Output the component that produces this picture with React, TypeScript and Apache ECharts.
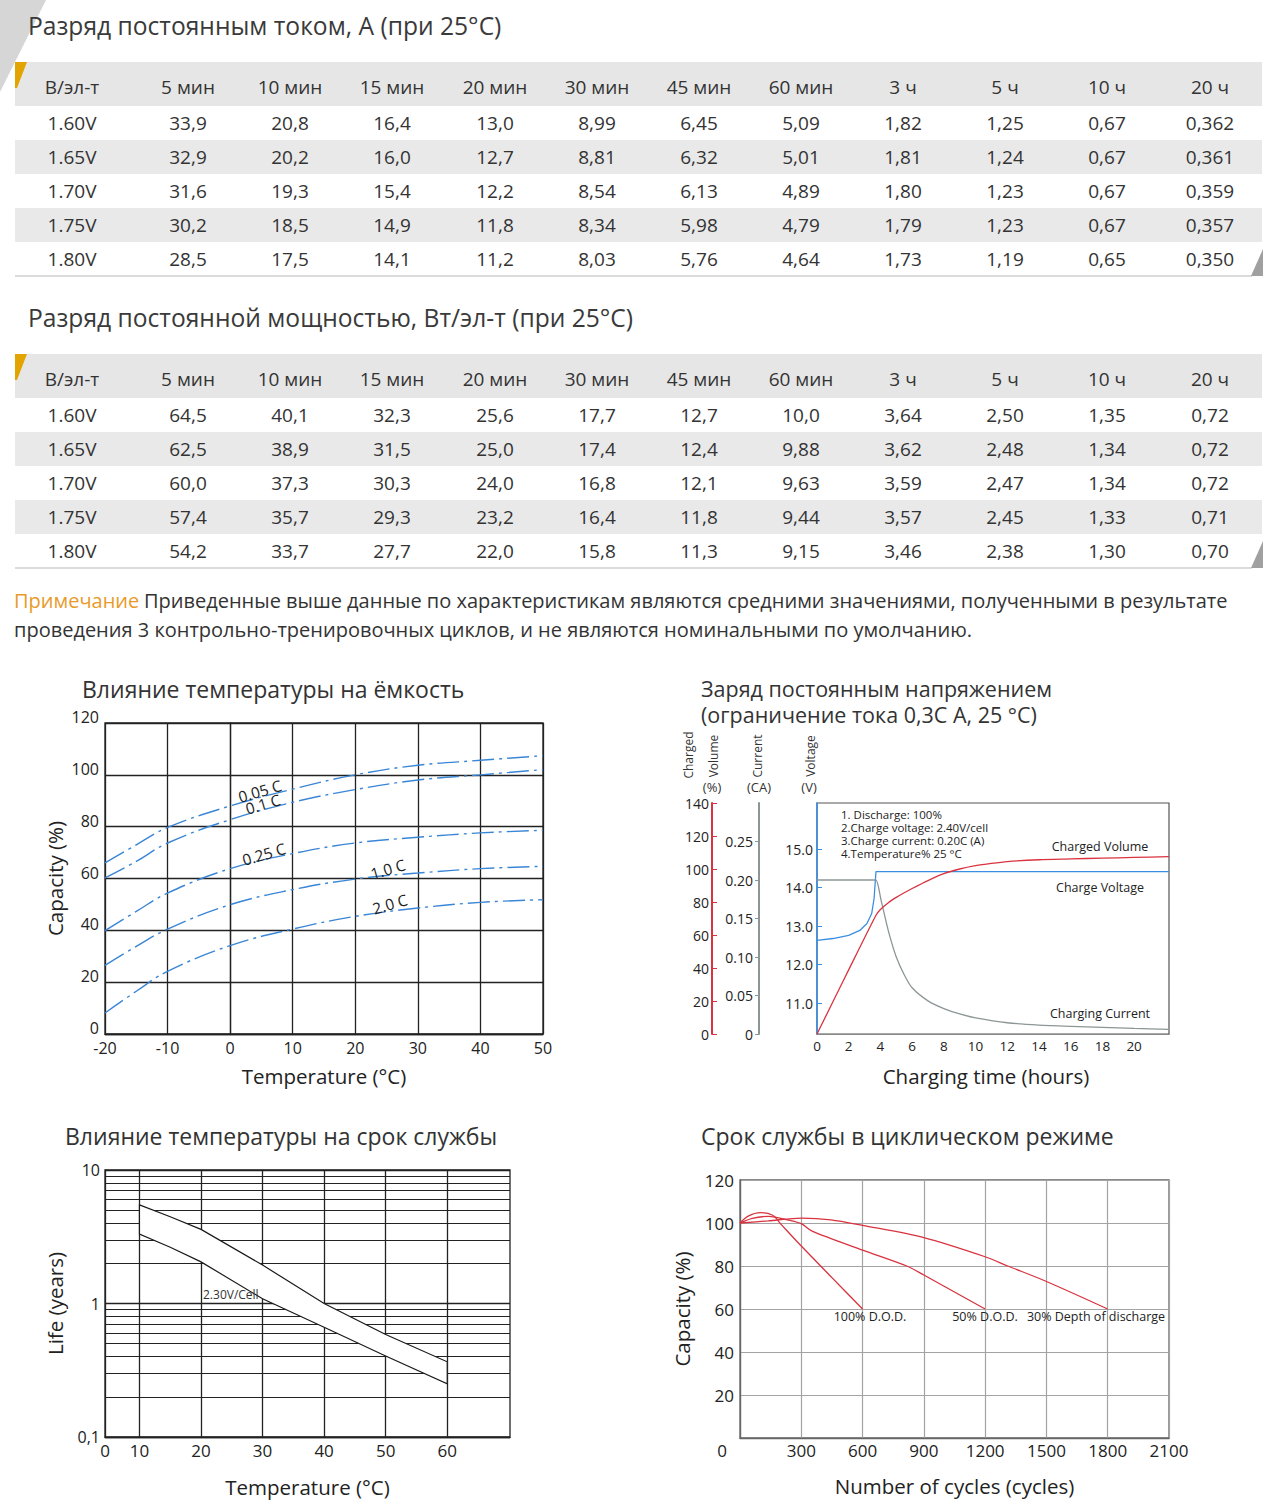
import React, { useEffect, useRef } from 'react';
import * as echarts from 'echarts';

const F = '"Open Sans", Arial, sans-serif';

// ---------- table data ----------
const tableCols = ['В/эл-т', '5 мин', '10 мин', '15 мин', '20 мин', '30 мин', '45 мин', '60 мин', '3 ч', '5 ч', '10 ч', '20 ч'];
const rowVolts = ['1.60V', '1.65V', '1.70V', '1.75V', '1.80V'];
const currentRows = [
  ['33,9', '20,8', '16,4', '13,0', '8,99', '6,45', '5,09', '1,82', '1,25', '0,67', '0,362'],
  ['32,9', '20,2', '16,0', '12,7', '8,81', '6,32', '5,01', '1,81', '1,24', '0,67', '0,361'],
  ['31,6', '19,3', '15,4', '12,2', '8,54', '6,13', '4,89', '1,80', '1,23', '0,67', '0,359'],
  ['30,2', '18,5', '14,9', '11,8', '8,34', '5,98', '4,79', '1,79', '1,23', '0,67', '0,357'],
  ['28,5', '17,5', '14,1', '11,2', '8,03', '5,76', '4,64', '1,73', '1,19', '0,65', '0,350'],
];
const powerRows = [
  ['64,5', '40,1', '32,3', '25,6', '17,7', '12,7', '10,0', '3,64', '2,50', '1,35', '0,72'],
  ['62,5', '38,9', '31,5', '25,0', '17,4', '12,4', '9,88', '3,62', '2,48', '1,34', '0,72'],
  ['60,0', '37,3', '30,3', '24,0', '16,8', '12,1', '9,63', '3,59', '2,47', '1,34', '0,72'],
  ['57,4', '35,7', '29,3', '23,2', '16,4', '11,8', '9,44', '3,57', '2,45', '1,33', '0,71'],
  ['54,2', '33,7', '27,7', '22,0', '15,8', '11,3', '9,15', '3,46', '2,38', '1,30', '0,70'],
];

// ---------- chart 1: temperature vs capacity ----------
const capTemps = [-20, -15, -10, 0, 10, 20, 30, 40, 50];
const cap005 = [66, 73, 79.7, 88, 94.5, 100, 103.7, 105.6, 107.4];
const cap01 = [60.2, 66.6, 73.7, 82.7, 89.4, 94.3, 98, 100, 102];
const cap025 = [39.9, 47.3, 54.4, 63.8, 69.6, 73.7, 75.9, 77.6, 78.6];
const cap10 = [26.5, 33.8, 40.5, 49.9, 55.7, 59.8, 62.1, 63.8, 64.7];
const cap20 = [8.1, 16.5, 24.2, 34.1, 40.5, 45.4, 48.6, 50.8, 51.8];

// ---------- chart 2: constant voltage charge ----------
const voltT = [0, 1, 2, 2.7, 3.15, 3.45, 3.6, 3.72, 22.2];
const voltV = [12.63, 12.68, 12.76, 12.89, 13.07, 13.33, 13.72, 14.42, 14.42];
const currT = [0, 3.5, 3.72, 4.05, 4.5, 5, 5.5, 6, 7, 8, 9, 10, 12, 14, 16, 18, 20, 22.2];
const currA = [0.2, 0.2, 0.2, 0.173, 0.134, 0.1, 0.077, 0.06, 0.043, 0.033, 0.026, 0.021, 0.0146, 0.0116, 0.0099, 0.0086, 0.0073, 0.006];
const volT = [0, 1.86, 3.72, 4, 4.5, 5, 5.5, 6, 7, 8, 9, 10, 11, 12, 14, 16, 18, 20, 22.2];
const volP = [0, 36.2, 72, 75.5, 79.6, 82.8, 85.6, 88.2, 93, 97.2, 100, 102, 103.4, 104.5, 105.6, 106.1, 106.6, 107, 107.5];

// ---------- chart 3: life vs temperature ----------
const lifeT = [10, 15, 20, 30, 40, 50, 60];
const lifeUpper = [5.48, 4.47, 3.59, 1.94, 1.0, 0.586, 0.366];
const lifeLower = [3.31, 2.64, 2.05, 1.085, 0.663, 0.404, 0.25];

// ---------- chart 4: cycle life ----------
const dod100C = [0, 40, 100, 160, 200, 300, 450, 600];
const dod100V = [100, 103.2, 104.8, 103.6, 99.5, 89.3, 74.6, 60];
const dod50C = [0, 60, 138, 246, 300, 353, 600, 816, 900, 1200];
const dod50V = [100, 102.2, 103.1, 101.2, 99.7, 96.2, 87.4, 80, 75.8, 60];
const dod30C = [0, 138, 300, 445, 600, 900, 1200, 1311, 1500, 1800];
const dod30V = [100, 101, 102.3, 101.5, 98.9, 93.2, 84.3, 80, 72.8, 60];

const zip = (a: number[], b: number[]) => a.map((v, i) => [v, b[i]]);

function txt(text: string, x: number, y: number, size: number, o: any = {}) {
  const align = o.align || 'left';
  const style: any = {
    text, fill: o.color || '#333', fontSize: size, fontFamily: F,
    align, textAlign: align, verticalAlign: 'middle', textVerticalAlign: 'middle',
  };
  if (o.lineHeight) style.lineHeight = o.lineHeight;
  return { type: 'text', x, y, z: 50, rotation: o.rotation || 0, silent: true, style };
}

function buildGraphics() {
  const G: any[] = [];
  G.push({ type: 'polygon', shape: { points: [[0, 0], [46, 0], [0, 92]] }, style: { fill: '#d6d6d6' } });
  const colX = [72, 188, 290, 392, 495, 597, 699, 801, 903, 1005, 1107, 1210];
  const table = (y0: number, title: string, rows: string[][]) => {
    G.push(txt(title, 28, y0 - 37, 24.6, { color: '#3a3a3a' }));
    G.push({ type: 'rect', shape: { x: 15, y: y0, width: 1247, height: 44 }, style: { fill: '#e6e6e6' } });
    for (let i = 0; i < rows.length; i++) {
      if (i % 2 === 1) G.push({ type: 'rect', shape: { x: 15, y: y0 + 44 + i * 34, width: 1247, height: 34 }, style: { fill: '#e9e9e9' } });
    }
    G.push({ type: 'line', shape: { x1: 15, y1: y0 + 214, x2: 1252, y2: y0 + 214 }, style: { stroke: '#cfcfcf', lineWidth: 1.5 } });
    G.push({ type: 'polygon', shape: { points: [[15, y0], [27, y0], [17, y0 + 26], [15, y0 + 26]] }, style: { fill: '#e2a400' } });
    G.push({ type: 'polygon', shape: { points: [[1263, y0 + 187], [1263, y0 + 214], [1251, y0 + 214]] }, style: { fill: '#a0a0a0' } });
    tableCols.forEach((c, j) => G.push(txt(c, colX[j], y0 + 25, 19, { align: 'center' })));
    rows.forEach((row, i) => {
      const y = y0 + 61 + i * 34;
      G.push(txt(rowVolts[i], colX[0], y, 19, { align: 'center' }));
      row.forEach((v, j) => G.push(txt(v, colX[j + 1], y, 19, { align: 'center' })));
    });
  };
  table(62, 'Разряд постоянным током, А (при 25°C)', currentRows);
  table(354, 'Разряд постоянной мощностью, Вт/эл-т (при 25°C)', powerRows);

  G.push(txt('Примечание', 14, 600, 20, { color: '#e89b2a' }));
  G.push(txt('Приведенные выше данные по характеристикам являются средними значениями, полученными в результате', 144, 600, 20));
  G.push(txt('проведения 3 контрольно-тренировочных циклов, и не являются номинальными по умолчанию.', 14, 629, 20));

  // chart titles
  G.push(txt('Влияние температуры на ёмкость', 82, 689, 23));
  G.push(txt('Заряд постоянным напряжением', 701, 688, 21.5));
  G.push(txt('(ограничение тока 0,3C A, 25 °C)', 701, 714, 21.5));
  G.push(txt('Влияние температуры на срок службы', 65, 1136, 23));
  G.push(txt('Срок службы в циклическом режиме', 701, 1136, 23));

  // chart 1 curve labels
  const rot = (16 * Math.PI) / 180;
  const c1 = { align: 'center', rotation: rot, color: '#222' };
  G.push(txt('0.05 C', 260, 791, 15.5, c1));
  G.push(txt('0.1 C', 263, 804, 15.5, c1));
  G.push(txt('0.25 C', 264, 854, 15.5, c1));
  G.push(txt('1.0 C', 388, 869, 15.5, c1));
  G.push(txt('2.0 C', 390, 904, 15.5, c1));

  // chart 2 axis names
  const r90 = Math.PI / 2;
  G.push(txt('Charged', 688, 755, 12, { align: 'center', rotation: r90 }));
  G.push(txt('Volume', 713, 756, 12, { align: 'center', rotation: r90 }));
  G.push(txt('(%)', 712, 787, 13, { align: 'center' }));
  G.push(txt('Current', 757, 756, 12, { align: 'center', rotation: r90 }));
  G.push(txt('(CA)', 759, 787, 13, { align: 'center' }));
  G.push(txt('Voltage', 810, 756, 12, { align: 'center', rotation: r90 }));
  G.push(txt('(V)', 809, 787, 13, { align: 'center' }));
  G.push(txt('1. Discharge: 100%\n2.Charge voltage: 2.40V/cell\n3.Charge current: 0.20C (A)\n4.Temperature% 25 °C',
    841, 834, 11.5, { color: '#222', lineHeight: 13 }));
  G.push(txt('Charged Volume', 1100, 846, 12.5, { align: 'center', color: '#222' }));
  G.push(txt('Charge Voltage', 1100, 887, 12.5, { align: 'center', color: '#222' }));
  G.push(txt('Charging Current', 1100, 1013, 12.5, { align: 'center', color: '#222' }));

  // chart 3 label
  G.push(txt('2.30V/Cell', 203, 1294, 12, { color: '#333' }));

  // chart 4 labels
  G.push(txt('100% D.O.D.', 870, 1316, 12.5, { align: 'center', color: '#222' }));
  G.push(txt('50% D.O.D.', 985, 1316, 12.5, { align: 'center', color: '#222' }));
  G.push(txt('30% Depth of discharge', 1096, 1316, 12.5, { align: 'center', color: '#222' }));
  return G;
}

function buildOption() {
  const dark = '#222';
  const nameStyle = { color: dark, fontSize: 20.5, fontFamily: F };
  const lbl = (size: number, extra: any = {}) => ({ color: dark, fontSize: size, fontFamily: F, ...extra });
  const capLine = (arr: number[]) => ({
    type: 'line', xAxisIndex: 0, yAxisIndex: 0, data: zip(capTemps, arr), smooth: 0.4, symbol: 'none', silent: true,
    lineStyle: { color: '#3a86d6', width: 1.4, type: [22, 5, 3, 5] },
  });
  const redLine = (c: number[], v: number[]) => ({
    type: 'line', xAxisIndex: 3, yAxisIndex: 5, data: zip(c, v), smooth: 0.3, symbol: 'none', silent: true,
    lineStyle: { color: '#d8333f', width: 1.3 },
  });
  return {
    animation: false,
    backgroundColor: '#fff',
    textStyle: { fontFamily: F },
    graphic: { elements: buildGraphics() },
    grid: [
      { left: 105, top: 723, width: 438, height: 311, show: true, borderColor: dark, borderWidth: 1.3 },
      { left: 817, top: 803, width: 352, height: 231, show: true, borderColor: '#555', borderWidth: 1.2 },
      { left: 105, top: 1170, width: 405, height: 267, show: true, borderColor: dark, borderWidth: 1.3 },
      { left: 740, top: 1180, width: 429, height: 258, show: true, borderColor: '#666', borderWidth: 1.3 },
    ],
    xAxis: [
      {
        gridIndex: 0, type: 'value', min: -20, max: 50, interval: 10,
        axisLine: { show: true, lineStyle: { color: dark, width: 1.3 } }, axisTick: { show: false },
        splitLine: { show: true, lineStyle: { color: dark, width: 1.3 } },
        axisLabel: lbl(16, { margin: 6 }),
        name: 'Temperature (°C)', nameLocation: 'middle', nameGap: 31, nameTextStyle: nameStyle,
      },
      {
        gridIndex: 1, type: 'value', min: 0, max: 22.2, interval: 2,
        axisLine: { show: true, lineStyle: { color: '#888', width: 1.2 } }, axisTick: { show: false },
        splitLine: { show: false },
        axisLabel: lbl(13.5, { margin: 5, formatter: (v: number) => (v > 21 ? '' : String(v)) }),
        name: 'Charging time (hours)', nameLocation: 'middle', nameGap: 31,
        nameTextStyle: { ...nameStyle, padding: [0, 14, 0, 0] },
      },
      {
        gridIndex: 2, type: 'value', min: 4.4, max: 70.2,
        axisLine: { show: true, lineStyle: { color: dark, width: 1.3 } },
        axisTick: { show: false, customValues: [10, 20, 30, 40, 50, 60] },
        splitLine: { show: true, lineStyle: { color: dark, width: 1.3 } },
        axisLabel: lbl(17, { margin: 5, customValues: [4.4, 10, 20, 30, 40, 50, 60], formatter: (v: number) => (v < 5 ? '0' : String(v)) }),
        name: 'Temperature (°C)', nameLocation: 'middle', nameGap: 39, nameTextStyle: nameStyle,
      },
      {
        gridIndex: 3, type: 'value', min: 0, max: 2100, interval: 300,
        axisLine: { show: true, lineStyle: { color: '#666', width: 1.3 } }, axisTick: { show: false },
        splitLine: { show: true, lineStyle: { color: '#a3a3a3', width: 1.2 } },
        axisLabel: lbl(17, {
          margin: 4,
          formatter: (v: number) => (v === 0 ? '{z|0}' : String(v)),
          rich: { z: { fontSize: 17, fontFamily: F, color: dark, padding: [0, 36, 0, 0] } },
        }),
        name: 'Number of cycles (cycles)', nameLocation: 'middle', nameGap: 37, nameTextStyle: nameStyle,
      },
    ],
    yAxis: [
      {
        gridIndex: 0, type: 'value', min: 0, max: 120, interval: 20,
        axisLine: { show: true, lineStyle: { color: dark, width: 1.3 } }, axisTick: { show: false },
        splitLine: { show: true, lineStyle: { color: dark, width: 1.3 } },
        axisLabel: lbl(16, { margin: 6, verticalAlign: 'bottom', lineHeight: 12 }),
        name: 'Capacity (%)', nameLocation: 'middle', nameGap: 40, nameTextStyle: nameStyle,
      },
      {
        gridIndex: 1, type: 'value', min: 10.2, max: 16.2, position: 'left',
        axisLine: { show: true, lineStyle: { color: '#3b8fe3', width: 1.6 } },
        axisTick: { show: true, inside: true, length: 5, customValues: [11, 12, 13, 14, 15], lineStyle: { color: '#3b8fe3' } },
        splitLine: { show: false },
        axisLabel: lbl(14, { margin: 4, customValues: [11, 12, 13, 14, 15], formatter: (v: number) => v.toFixed(1) }),
      },
      {
        gridIndex: 1, type: 'value', min: 0, max: 0.3, interval: 0.05, position: 'left', offset: 58,
        axisLine: { show: true, lineStyle: { color: '#8c9696', width: 2 } },
        axisTick: { show: true, inside: false, length: 4, lineStyle: { color: '#8c9696' } },
        splitLine: { show: false },
        axisLabel: lbl(14, { margin: 6, showMaxLabel: false, formatter: (v: number) => (v === 0 ? '0' : v.toFixed(2)) }),
      },
      {
        gridIndex: 1, type: 'value', min: 0, max: 140, interval: 20, position: 'left', offset: 105,
        axisLine: { show: true, lineStyle: { color: '#d8333f', width: 2 } },
        axisTick: { show: true, inside: true, length: 5, lineStyle: { color: '#d8333f' } },
        splitLine: { show: false },
        axisLabel: lbl(14, { margin: 3 }),
      },
      {
        gridIndex: 2, type: 'log', logBase: 10, min: 0.1, max: 10,
        axisLine: { show: true, lineStyle: { color: dark, width: 1.3 } }, axisTick: { show: false },
        splitLine: { show: true, lineStyle: { color: dark, width: 1.3 } },
        minorTick: { show: false, splitNumber: 9 },
        minorSplitLine: { show: true, lineStyle: { color: dark, width: 1.1 } },
        axisLabel: lbl(16, { margin: 5, formatter: (v: number) => String(v).replace('.', ',') }),
        name: 'Life (years)', nameLocation: 'middle', nameGap: 40, nameTextStyle: nameStyle,
      },
      {
        gridIndex: 3, type: 'value', min: 0, max: 120, interval: 20,
        axisLine: { show: true, lineStyle: { color: '#666', width: 1.3 } }, axisTick: { show: false },
        splitLine: { show: true, lineStyle: { color: '#a3a3a3', width: 1.2 } },
        axisLabel: lbl(17, { margin: 6, formatter: (v: number) => (v === 0 ? '' : String(v)) }),
        name: 'Capacity (%)', nameLocation: 'middle', nameGap: 48, nameTextStyle: nameStyle,
      },
    ],
    series: [
      capLine(cap005), capLine(cap01), capLine(cap025), capLine(cap10), capLine(cap20),
      {
        type: 'line', xAxisIndex: 1, yAxisIndex: 1, data: zip(voltT, voltV), smooth: false, symbol: 'none', silent: true,
        lineStyle: { color: '#3b8fe3', width: 1.3 },
      },
      {
        type: 'line', xAxisIndex: 1, yAxisIndex: 2, data: zip(currT, currA), smooth: 0.25, symbol: 'none', silent: true,
        lineStyle: { color: '#8c9696', width: 1.3 },
      },
      {
        type: 'line', xAxisIndex: 1, yAxisIndex: 3, data: zip(volT, volP), smooth: 0.25, symbol: 'none', silent: true,
        lineStyle: { color: '#d8333f', width: 1.3 },
      },
      {
        type: 'custom', xAxisIndex: 2, yAxisIndex: 4, silent: true,
        data: [[lifeT[0], lifeUpper[0]]],
        renderItem: (_params: any, api: any) => {
          const top = lifeT.map((t, i) => api.coord([t, lifeUpper[i]]));
          const bot = lifeT.map((t, i) => api.coord([t, lifeLower[i]])).reverse();
          return {
            type: 'polygon',
            shape: { points: top.concat(bot) },
            style: { fill: '#fff', stroke: '#1a1a1a', lineWidth: 1.2 },
          };
        },
      },
      redLine(dod100C, dod100V), redLine(dod50C, dod50V), redLine(dod30C, dod30V),
    ],
  };
}

export default function App() {
  const ref = useRef<HTMLDivElement>(null);
  useEffect(() => {
    if (!ref.current) return;
    const chart = echarts.init(ref.current, null, { renderer: 'svg', width: 1280, height: 1510 });
    chart.setOption(buildOption() as any);
    return () => chart.dispose();
  }, []);
  return (
    <div
      ref={ref}
      style={{ position: 'absolute', left: 0, top: 0, width: 1280, height: 1510, background: '#fff' }}
    />
  );
}
